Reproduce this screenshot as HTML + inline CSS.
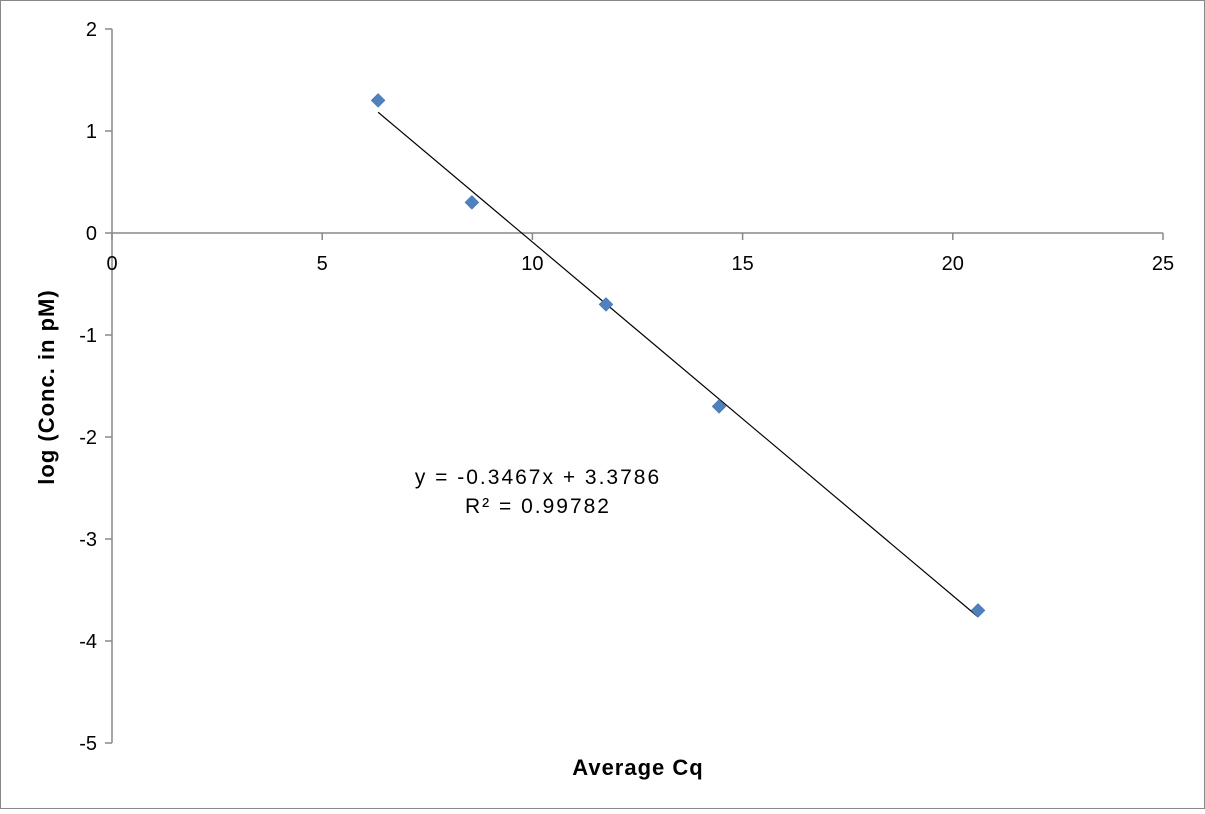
<!DOCTYPE html>
<html><head><meta charset="utf-8"><style>
html,body{margin:0;padding:0;background:#fff;}
svg text{font-family:"Liberation Sans",Arial,sans-serif;}
</style></head><body>
<svg id="chart" width="1205" height="809" viewBox="0 0 1205 809" xmlns="http://www.w3.org/2000/svg">
<rect x="0.5" y="0.5" width="1204" height="808" fill="#fff" stroke="#888" stroke-width="1"/>
<g id="axes"></g>
<g id="marks"></g>
<text x="638" y="775" font-size="22" font-weight="bold" letter-spacing="1" text-anchor="middle">Average Cq</text>
<text transform="translate(54,387) rotate(-90)" font-size="22" font-weight="bold" letter-spacing="1" text-anchor="middle">log (Conc. in pM)</text>
<text x="538" y="484" font-size="21" letter-spacing="2" text-anchor="middle">y = -0.3467x + 3.3786</text>
<text x="538" y="513" font-size="21" letter-spacing="2" text-anchor="middle">R² = 0.99782</text>
</svg>
<script>
const xValues = [6.33, 8.56, 11.75, 14.44, 20.6];
const yValues = [1.3, 0.3, -0.7, -1.7, -3.7];
const xTicks = [0, 5, 10, 15, 20, 25];
const yTicks = [2, 1, 0, -1, -2, -3, -4, -5];
const slope = -0.3467;
const intercept = 3.3786;

const NS = "http://www.w3.org/2000/svg";
const X = v => 112 + v * (1163 - 112) / 25;
const Y = v => 233 - v * (743 - 29) / 7;
function mk(tag, attrs, parent) {
  const e = document.createElementNS(NS, tag);
  for (const k in attrs) e.setAttribute(k, attrs[k]);
  parent.appendChild(e);
  return e;
}
const axes = document.getElementById('axes');
const marks = document.getElementById('marks');

const yAxis = mk('line', {x1: X(0), y1: Y(2), x2: X(0), y2: Y(-5), stroke: '#888', 'stroke-width': 1.5}, axes);


const xAxis = mk('line', {x1: X(0), y1: Y(0), x2: X(25), y2: Y(0), stroke: '#888', 'stroke-width': 1.5}, axes);



yTicks.forEach(t => {
  const l = mk('line', {x1: X(0) - 7, y1: Y(t), x2: X(0), y2: Y(t), stroke: '#888', 'stroke-width': 1.5}, axes);
  
  
  const tx = mk('text', {x: 97, y: Y(t) + 7, 'font-size': 20, 'text-anchor': 'end'}, axes);
  tx.textContent = t;
  
  
});
xTicks.forEach(t => {
  const l = mk('line', {x1: X(t), y1: Y(0), x2: X(t), y2: Y(0) + 7, stroke: '#888', 'stroke-width': 1.5}, axes);
  
  
  const tx = mk('text', {x: X(t), y: Y(0) + 37, 'font-size': 20, 'text-anchor': 'middle'}, axes);
  tx.textContent = t;
  
  
});

const xmin = Math.min(...xValues), xmax = Math.max(...xValues);
const tl = mk('line', {x1: X(xmin), y1: Y(slope * xmin + intercept), x2: X(xmax), y2: Y(slope * xmax + intercept), stroke: '#000', 'stroke-width': 1.2}, marks);



xValues.forEach((xv, i) => {
  const cx = X(xv), cy = Y(yValues[i]), r = 7;
  const p = mk('polygon', {points: `${cx},${cy - r} ${cx + r},${cy} ${cx},${cy + r} ${cx - r},${cy}`, fill: '#4f81bd', stroke: '#3a6aa5', 'stroke-width': 0.5}, marks);
  
  
});
</script>
</body></html>
